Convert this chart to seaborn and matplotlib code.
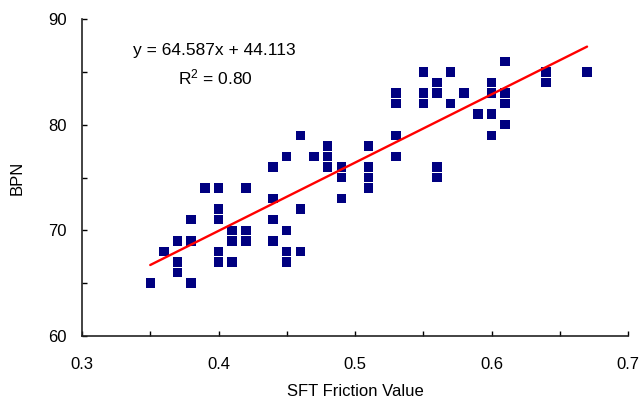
import matplotlib
matplotlib.use("Agg")
import matplotlib.pyplot as plt
import numpy as np
import pandas as pd
import seaborn as sns
from matplotlib.ticker import MultipleLocator

# SFT friction value and BPN
sft = [0.35, 0.36, 0.37, 0.37, 0.37, 0.38, 0.38, 0.38, 0.39,
       0.40, 0.40, 0.40, 0.40, 0.40, 0.41, 0.41, 0.41,
       0.42, 0.42, 0.42, 0.44, 0.44, 0.44, 0.44,
       0.45, 0.45, 0.45, 0.45, 0.46, 0.46, 0.46, 0.47,
       0.48, 0.48, 0.48, 0.49, 0.49, 0.49,
       0.51, 0.51, 0.51, 0.51, 0.53, 0.53, 0.53, 0.53,
       0.55, 0.55, 0.55, 0.56, 0.56, 0.56, 0.56, 0.57, 0.57,
       0.58, 0.59, 0.60, 0.60, 0.60, 0.60,
       0.61, 0.61, 0.61, 0.61, 0.64, 0.64, 0.67]
bpn = [65, 68, 69, 67, 66, 71, 69, 65, 74,
       74, 72, 71, 68, 67, 70, 69, 67,
       74, 70, 69, 76, 73, 71, 69,
       77, 70, 68, 67, 79, 72, 68, 77,
       78, 77, 76, 76, 75, 73,
       78, 76, 75, 74, 83, 82, 79, 77,
       85, 83, 82, 84, 83, 76, 75, 85, 82,
       83, 81, 84, 83, 81, 79,
       86, 83, 82, 80, 85, 84, 85]

SLOPE = 64.587
INTERCEPT = 44.113
R2 = 0.80

df = pd.DataFrame({"sft": sft, "bpn": bpn})
fit = pd.DataFrame({"sft": [df.sft.min(), df.sft.max()]})
fit["bpn"] = SLOPE * fit.sft + INTERCEPT

sns.set_style("white")
plt.rcParams["font.family"] = ["Liberation Sans", "DejaVu Sans"]
plt.rcParams["mathtext.fontset"] = "custom"
plt.rcParams["mathtext.rm"] = "Liberation Sans"
plt.rcParams["mathtext.default"] = "rm"
plt.rcParams["text.color"] = "black"
plt.rcParams["axes.labelcolor"] = "black"
plt.rcParams["xtick.color"] = "black"
plt.rcParams["ytick.color"] = "black"
plt.rcParams["xtick.direction"] = "in"
plt.rcParams["ytick.direction"] = "in"

fig = plt.figure(figsize=(6.43, 4.07), dpi=100)
ax = fig.add_axes([82 / 643, 71 / 407, 546 / 643, 317 / 407])

sns.scatterplot(data=df, x="sft", y="bpn", marker="s", s=46, color="#000080",
                edgecolor="none", ax=ax, zorder=2)
sns.lineplot(data=fit, x="sft", y="bpn", color="#ff0000", linewidth=1.7, ax=ax, zorder=3)

ax.set_xlim(0.3, 0.7)
ax.set_ylim(60, 90)
ax.xaxis.set_major_locator(MultipleLocator(0.1))
ax.xaxis.set_minor_locator(MultipleLocator(0.05))
ax.yaxis.set_major_locator(MultipleLocator(10))
ax.yaxis.set_minor_locator(MultipleLocator(5))
ax.set_xticklabels([f"{v:g}" for v in ax.get_xticks()])
ax.tick_params(which="both", length=3.5, width=1, color="black", labelsize=12,
               left=True, bottom=True)
ax.tick_params(axis="y", pad=11)
ax.tick_params(axis="x", pad=15)
sns.despine(ax=ax)
for s in ("left", "bottom"):
    ax.spines[s].set_color("#222222")
    ax.spines[s].set_linewidth(1.2)

ax.set_xlabel("SFT Friction Value", fontsize=12, labelpad=9)
ax.set_ylabel("BPN", fontsize=12, labelpad=17)

ax.text(0.242, 0.90, f"y = {SLOPE}x + {INTERCEPT}", transform=ax.transAxes,
        ha="center", va="center", fontsize=12.5)
ax.text(0.244, 0.815, f"R$^2$ = {R2:.2f}", transform=ax.transAxes,
        ha="center", va="center", fontsize=12.5)

fig.savefig("out.png", dpi=100)
